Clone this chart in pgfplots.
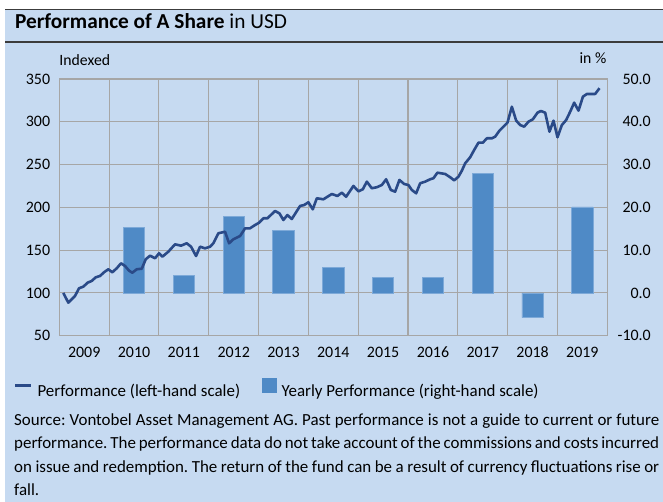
\documentclass[border=0pt]{standalone}
\usepackage{fontspec}
\setmainfont{Carlito}
\usepackage{pgfplots}
\pgfplotsset{compat=1.18}
\definecolor{bg}{HTML}{C6DAF1}
\definecolor{darkline}{HTML}{3C3C3C}
\definecolor{perfline}{HTML}{2A4A88}
\definecolor{barblue}{HTML}{4F8AC6}
\definecolor{baredge}{HTML}{7DA9D8}
\definecolor{gridgray}{HTML}{A6A6A6}
\newcommand{\tickfont}{\fontsize{16}{19}\selectfont}
\frenchspacing
\begin{document}
\begin{tikzpicture}[x=1bp,y=1bp]
\useasboundingbox (0,0) rectangle (663,502);
\fill[white] (0,0) rectangle (663,502);
\fill[bg] (5,0) rectangle (663,492.5);
\draw[line width=1.5bp, darkline] (5,492.5) -- (663,492.5);
\draw[line width=2bp, darkline] (5,460) -- (663,460);
\node[anchor=base west, inner sep=0] at (15,473) {\fontsize{21.4}{24}\selectfont\textbf{Performance of A Share} in USD};
\node[anchor=base west, inner sep=0] at (59.3,436.3) {\fontsize{15.8}{18}\selectfont Indexed};
\node[anchor=base east, inner sep=0] at (606.5,438) {\fontsize{15.8}{18}\selectfont in \%};

% bars, right-hand scale, with grid
\begin{axis}[
  at={(59.3bp,166.3bp)}, anchor=south west, scale only axis,
  width=548bp, height=256.7bp,
  xmin=0, xmax=11, ymin=-10, ymax=50,
  axis line style={gridgray, line width=1.1bp},
  xtick={0,1,...,11}, xticklabels={},
  ytick={-10,0,10,20,30,40,50},
  yticklabels={-10.0,0.0,10.0,20.0,30.0,40.0,50.0},
  yticklabel pos=right,
  yticklabel style={anchor=east, inner sep=0pt, xshift=43.7bp, font=\tickfont},
  major tick length=0pt,
  xmajorgrids, ymajorgrids,
  grid style={gridgray, line width=1.1bp},
]
\addplot[ybar, bar width=21.3bp, fill=barblue, draw=baredge, line width=0.8bp]
  coordinates {(1.5,15.2) (2.5,4.0) (3.5,17.8) (4.5,14.7) (5.5,5.9) (6.5,3.6) (7.5,3.7) (8.5,27.9) (9.5,-5.8) (10.5,20.1)};
\end{axis}

% performance line, left-hand scale
\begin{axis}[
  at={(59.3bp,166.3bp)}, anchor=south west, scale only axis,
  width=548bp, height=256.7bp,
  xmin=0, xmax=11, ymin=50, ymax=350,
  axis line style={draw=none},
  xtick={0.5,1.5,...,10.5},
  xticklabels={2009,2010,2011,2012,2013,2014,2015,2016,2017,2018,2019},
  xticklabel style={anchor=base, inner sep=0pt, yshift=-21.5bp, font=\tickfont},
  ytick={50,100,...,350},
  yticklabels={50,100,150,200,250,300,350},
  yticklabel pos=left,
  yticklabel style={anchor=east, inner sep=0pt, xshift=-9bp, font=\tickfont},
  major tick length=0pt,
  legend columns=2,
  legend cell align=left,
  legend style={at={(-0.0826,-0.2050)}, anchor=west, draw=none, fill=none,
    inner sep=0pt, outer sep=0pt, font=\fontsize{17}{20}\selectfont,
    nodes={inner sep=0pt},
    /tikz/every odd column/.append style={column sep=5bp},
    /tikz/every even column/.append style={column sep=22bp}},
]
\addplot[perfline, line width=2.6bp, line join=round,
  legend image code/.code={\draw[perfline, line width=2.5bp] (0bp,5.5bp) -- (16bp,5.5bp);}]
  coordinates {
(0.080,100) (0.181,88.6) (0.249,92.5) (0.315,96.4) (0.396,105.4) (0.482,107.3) (0.570,112) (0.651,114) (0.731,118.2) (0.817,119.8) (0.904,124.4) (0.984,127.6) (1.064,124.1) (1.153,128.8) (1.239,134.6) (1.319,131.5) (1.400,126) (1.466,123.6) (1.554,127.6) (1.655,128.3) (1.735,139.3) (1.821,143.5) (1.922,140.5) (2.002,146.3) (2.068,142.3) (2.189,148.2) (2.323,156.8) (2.444,155.2) (2.558,158) (2.645,154) (2.745,143.1) (2.825,154) (2.926,152.1) (3.026,154) (3.092,158) (3.193,169.7) (3.327,171.5) (3.408,158) (3.494,162.7) (3.629,166.5) (3.729,175.5) (3.829,175.5) (3.930,179.4) (4.010,182) (4.096,187.2) (4.177,187.2) (4.331,195.7) (4.418,193) (4.498,185.2) (4.578,191) (4.667,186.4) (4.833,201.6) (4.914,202.7) (5.000,205.9) (5.088,197.7) (5.169,210.6) (5.301,209.4) (5.470,215.6) (5.582,213.3) (5.671,217.1) (5.757,212.4) (5.904,225) (6.004,218.7) (6.092,221.1) (6.173,230) (6.273,222.3) (6.373,223.5) (6.474,226.1) (6.560,232.8) (6.655,220.3) (6.741,218.3) (6.827,232) (6.922,227.3) (7.008,226.1) (7.076,220.3) (7.163,216.4) (7.243,228.1) (7.343,230) (7.444,232.8) (7.510,234) (7.590,240.5) (7.745,239) (7.845,235.2) (7.926,231.5) (8.012,235.8) (8.080,242.8) (8.147,251.5) (8.247,258.5) (8.327,267) (8.414,275.6) (8.502,275.6) (8.582,280.7) (8.683,280.7) (8.749,282.6) (8.835,289.6) (8.916,294.3) (8.996,299) (9.084,317.6) (9.171,301.3) (9.251,296.2) (9.331,294.3) (9.418,300.1) (9.506,302.9) (9.598,310.6) (9.667,312.6) (9.753,310.6) (9.839,288.4) (9.920,301.3) (10.000,281.9) (10.088,296.2) (10.175,302.1) (10.255,311.8) (10.335,322.3) (10.422,313) (10.510,329.3) (10.590,332.5) (10.757,332.5) (10.843,339.2)
  };
\addlegendentry{Performance (left-hand scale)}
\addlegendimage{legend image code/.code={\fill[barblue] (0bp,-1.5bp) rectangle (14bp,12.5bp);}}
\addlegendentry{Yearly Performance (right-hand scale)}
\end{axis}

\node[anchor=base west, inner sep=0, text width=645bp, align=justify,
      font={\fontsize{17}{23.5}\selectfont}] at (14,76.5)
 {Source: Vontobel Asset Management AG. Past performance is not a guide to current or future performance. The performance data do not take account of the commissions and costs incurred on issue and redemption. The return of the fund can be a result of currency fluctuations rise or fall.};
\end{tikzpicture}
\end{document}
